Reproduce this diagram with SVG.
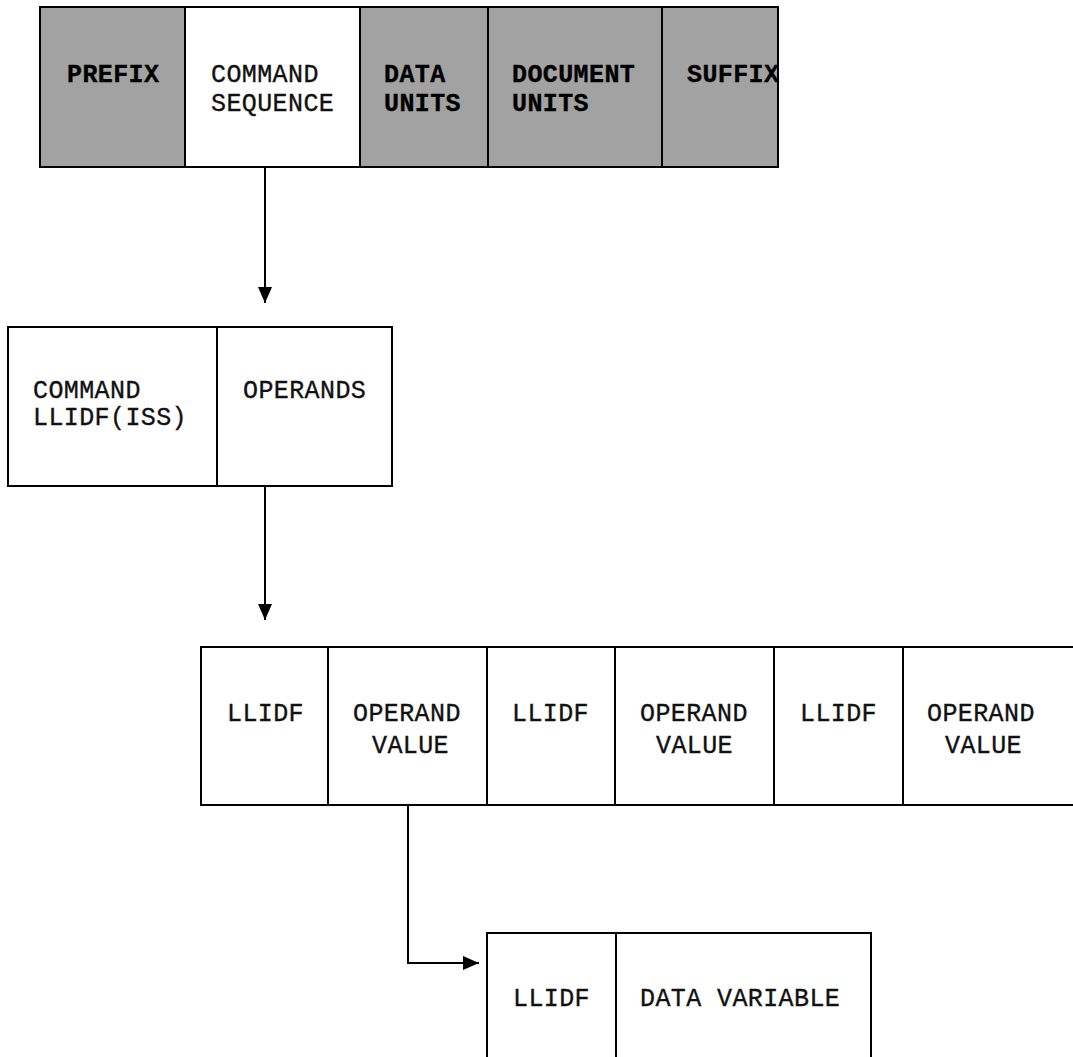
<svg xmlns="http://www.w3.org/2000/svg" width="1073" height="1057" viewBox="0 0 1073 1057">
<defs>
<style>
.box{fill:#fff;stroke:#000;stroke-width:2}
.shade{fill:#a2a2a2;stroke:#000;stroke-width:2}
.div{stroke:#000;stroke-width:2}
.t{font-family:"Liberation Mono","DejaVu Sans Mono",monospace;font-size:25px;letter-spacing:0.4px;fill:#111;stroke:#111;stroke-width:0.35px}
.tb{font-weight:bold;fill:#000;stroke:#000}
.conn{fill:none;stroke:#000;stroke-width:2}
</style>
<marker id="ah" viewBox="0 0 16 14" refX="16" refY="7" markerWidth="16" markerHeight="14" markerUnits="userSpaceOnUse" orient="auto">
<path d="M0,0 L16,7 L0,14 Z" fill="#000"/>
</marker>
</defs>
<rect width="1073" height="1057" fill="#fff"/>

<g id="top-row">
<rect class="shade" x="40" y="7" width="738" height="160"/>
<rect class="box" x="185" y="7" width="175" height="160"/>
<line class="div" x1="488" y1="7" x2="488" y2="167"/>
<line class="div" x1="662" y1="7" x2="662" y2="167"/>
<text class="t tb" x="67" y="82">PREFIX</text>
<text class="t" x="211" y="82">COMMAND</text>
<text class="t" x="211" y="111">SEQUENCE</text>
<text class="t tb" x="384" y="82">DATA</text>
<text class="t tb" x="384" y="111">UNITS</text>
<text class="t tb" x="512" y="82">DOCUMENT</text>
<text class="t tb" x="512" y="111">UNITS</text>
<text class="t tb" x="687" y="82">SUFFIX</text>
</g>

<g id="command-row">
<rect class="box" x="8" y="327" width="384" height="159"/>
<line class="div" x1="217" y1="327" x2="217" y2="486"/>
<text class="t" x="33" y="398">COMMAND</text>
<text class="t" x="33" y="425">LLIDF(ISS)</text>
<text class="t" x="243" y="398">OPERANDS</text>
</g>

<g id="operand-row">
<rect class="box" x="201" y="647" width="890" height="158"/>
<line class="div" x1="328" y1="647" x2="328" y2="805"/>
<line class="div" x1="487" y1="647" x2="487" y2="805"/>
<line class="div" x1="615" y1="647" x2="615" y2="805"/>
<line class="div" x1="774" y1="647" x2="774" y2="805"/>
<line class="div" x1="903" y1="647" x2="903" y2="805"/>
<text class="t" x="227" y="721">LLIDF</text>
<text class="t" x="353" y="721">OPERAND</text>
<text class="t" x="372" y="753">VALUE</text>
<text class="t" x="512" y="721">LLIDF</text>
<text class="t" x="640" y="721">OPERAND</text>
<text class="t" x="656" y="753">VALUE</text>
<text class="t" x="800" y="721">LLIDF</text>
<text class="t" x="927" y="721">OPERAND</text>
<text class="t" x="945" y="753">VALUE</text>
</g>

<g id="data-row">
<rect class="box" x="487" y="933" width="384" height="140"/>
<line class="div" x1="616" y1="933" x2="616" y2="1060"/>
<text class="t" x="513" y="1006">LLIDF</text>
<text class="t" x="640" y="1006">DATA VARIABLE</text>
</g>

<g id="connectors">
<line class="conn" x1="265" y1="167" x2="265" y2="303" marker-end="url(#ah)"/>
<line class="conn" x1="265" y1="486" x2="265" y2="620" marker-end="url(#ah)"/>
<path class="conn" d="M408,805 V963 H479" marker-end="url(#ah)"/>
</g>
</svg>
